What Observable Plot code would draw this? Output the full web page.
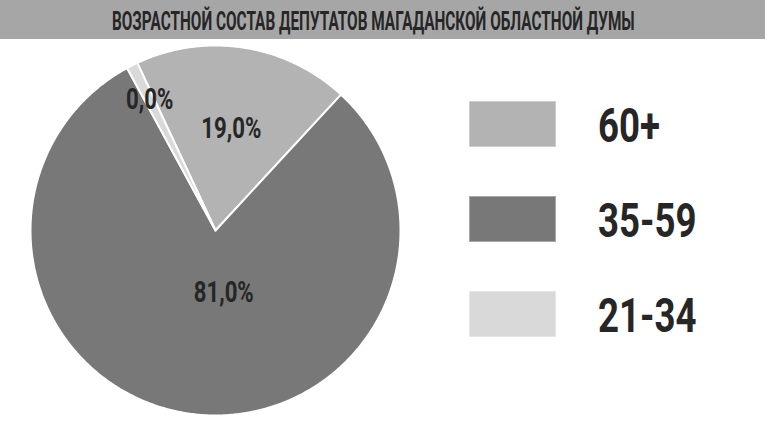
<!DOCTYPE html>
<html><head><meta charset="utf-8">
<script src="https://cdn.jsdelivr.net/npm/d3@7"></script>
<script src="https://cdn.jsdelivr.net/npm/@observablehq/plot@0.6"></script>
<style>
html,body{margin:0;padding:0;background:#fff;}
body{width:765px;height:424px;overflow:hidden;position:relative;}
#head{position:absolute;left:0;top:0;width:765px;height:39px;}
#chart{position:absolute;left:0;top:39px;}
#legend{position:absolute;left:0;top:0;width:765px;height:424px;pointer-events:none;}
.sw{position:absolute;left:469px;width:87px;height:46px;box-shadow:inset 0 0 0 1px rgba(255,255,255,0.35);}
</style>
</head><body>
<svg id="head" width="765" height="39"></svg>
<div id="chart"></div>
<div id="legend"></div>
<script>
const titleText = "ВОЗРАСТНОЙ СОСТАВ ДЕПУТАТОВ МАГАДАНСКОЙ ОБЛАСТНОЙ ДУМЫ";
const categories = ["60+", "35-59", "21-34"];
const shares = [19, 81, 1];            // 21-34 drawn as a thin sliver
const valueLabels = ["19,0%", "81,0%", "0,0%"];
const colors = ["#b3b3b3", "#787878", "#d9d9d9"];

// styling / layout
const FONT = 'Roboto, "DejaVu Sans", sans-serif';
const W = 765, H = 385, CX = 215, CY = 191, R = 185;
const startDeg = -25;
const labelRadius = [0.555, 0.34, 0.79];
const labelDx = [0, 16, 0];
const textDark = "#262626";

function squeeze(el, factor) {
  const w = el.getComputedTextLength();
  el.setAttribute("textLength", w * factor);
  el.setAttribute("lengthAdjust", "spacingAndGlyphs");
}

// title bar
const head = d3.select("#head");
head.append("rect").attr("width", W).attr("height", 39).attr("fill", "#a6a6a6");
const tt = head.append("text").attr("x", 0).attr("y", 0)
  .attr("font-family", FONT).attr("font-weight", "bold").attr("font-size", 26.5)
  .attr("fill", textDark).text(titleText);
{
  const w = tt.node().getComputedTextLength();
  tt.attr("transform", `translate(112,29.5) scale(${523 / w},1)`);
}

// pie geometry
const start = startDeg * Math.PI / 180;
const arcs = d3.pie().sort(null).startAngle(start).endAngle(start + 2 * Math.PI)(shares);
const polys = [];
arcs.forEach((a, i) => {
  const key = categories[i];
  polys.push({key, x: 0, y: 0});
  const n = Math.max(2, Math.ceil((a.endAngle - a.startAngle) / (Math.PI / 360)));
  for (let k = 0; k <= n; k++) {
    const t = a.startAngle + (a.endAngle - a.startAngle) * k / n;
    polys.push({key, x: Math.sin(t), y: Math.cos(t)});
  }
  polys.push({key, x: 0, y: 0});
});
const labelData = arcs.map((a, i) => {
  const m = (a.startAngle + a.endAngle) / 2;
  return {key: categories[i], text: valueLabels[i], x: labelRadius[i] * Math.sin(m), y: labelRadius[i] * Math.cos(m), dx: labelDx[i]};
});

const plot = Plot.plot({
  width: W, height: H, margin: 0,
  style: {background: "transparent", fontFamily: FONT},
  x: {domain: [-CX / R, (W - CX) / R], axis: null},
  y: {domain: [-(H - CY) / R, CY / R], axis: null},
  color: {domain: categories, range: colors},
  marks: [
    Plot.line(polys, {x: "x", y: "y", z: "key", fill: "key", stroke: "white", strokeWidth: 2, strokeLinejoin: "round", curve: "linear"}),
    Plot.text(labelData.filter(d => d.dx === 0), {x: "x", y: "y", text: "text", fontSize: 29, fontWeight: "bold", fill: textDark}),
    Plot.text(labelData.filter(d => d.dx !== 0), {x: "x", y: "y", text: "text", dx: 16, fontSize: 29, fontWeight: "bold", fill: textDark})
  ]
});
document.getElementById("chart").appendChild(plot);
{
  const texts = d3.select(plot).selectAll("text").nodes();
  const ref = texts.find(t => t.textContent === "81,0%");
  const k = ref ? 60 / ref.getComputedTextLength() : 0.8;
  texts.forEach(t => squeeze(t, k));
}

// legend
const legend = d3.select("#legend");
const lsvg = legend.append("svg").attr("width", W).attr("height", 424).style("position", "absolute").style("left", 0).style("top", 0);
const legTexts = [];
categories.forEach((c, i) => {
  const top = 101 + i * 95;
  legend.append("div").attr("class", "sw").style("top", top + "px").style("background", colors[i]);
  const t = lsvg.append("text").attr("x", 598).attr("y", top + 23 + 18)
    .attr("font-family", FONT).attr("font-weight", "bold").attr("font-size", 49)
    .attr("fill", textDark).text(c);
  legTexts.push(t.node());
});
{
  const k = 62 / legTexts[0].getComputedTextLength();
  legTexts.forEach(t => squeeze(t, k));
}
</script>
</body></html>
